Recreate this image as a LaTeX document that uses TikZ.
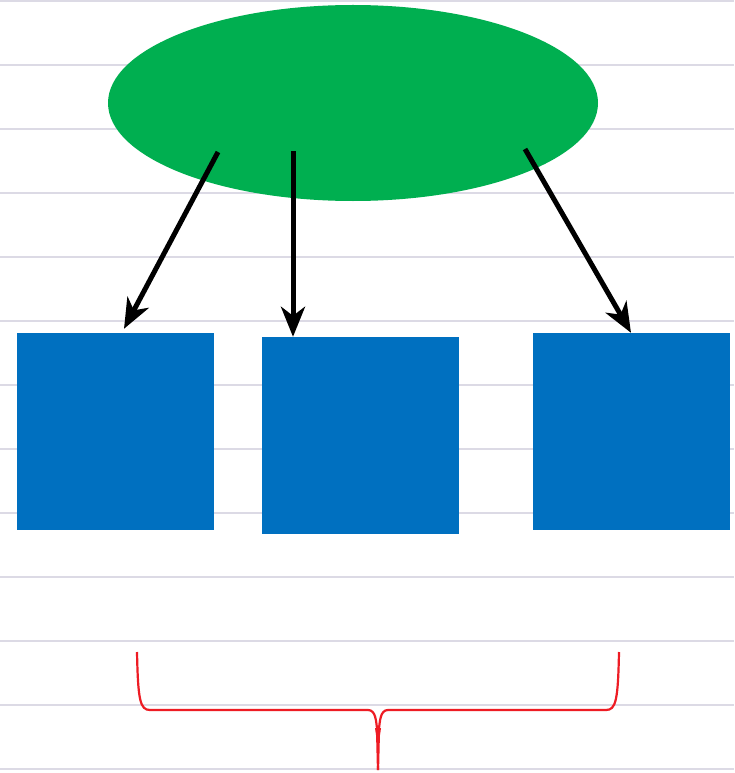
\documentclass[tikz,border=0pt]{standalone}
\usetikzlibrary{shapes.geometric,arrows.meta,calc}
\definecolor{rulecol}{HTML}{DCDAE5}
\definecolor{topgreen}{HTML}{00AF50}
\definecolor{boxblue}{HTML}{0070C0}
\definecolor{bracered}{HTML}{EE1C24}
\tikzset{
  ruleline/.style={rulecol,line width=2.5pt},
  topnode/.style={ellipse,fill=topgreen,draw=none,minimum width=490pt,minimum height=196pt,inner sep=0pt},
  boxnode/.style={rectangle,fill=boxblue,draw=none,minimum width=197pt,minimum height=197pt,inner sep=0pt},
  arrowline/.style={line width=5pt,-{Stealth[length=30pt,width=24pt,inset=9pt]}},
  bracepath/.style={bracered,line width=2.2pt}
}
\begin{document}
\begin{tikzpicture}[x=1pt,y=-1pt]
\useasboundingbox (0,0) rectangle (734,773);
\fill[white] (0,0) rectangle (734,773);
\draw[ruleline] (0,1) -- (734,1);
\foreach \yy in {65,129,193,257,321,385,449,513,577,641,705,769}
  \draw[ruleline] (0,\yy) -- (734,\yy);
\node[topnode] (top) at (353,103) {};
\node[boxnode] (b1) at (115.5,431.5) {};
\node[boxnode] (b2) at (360.5,435.5) {};
\node[boxnode] (b3) at (631.5,431.5) {};
\coordinate (s1) at (218,152);
\coordinate (s2) at (293,151);
\coordinate (s3) at (525,149);
\draw[arrowline] (s1) -- ([xshift=8.5pt,yshift=4pt]b1.north);
\draw[arrowline] (s2) -- ([xshift=-67.5pt,yshift=0pt]b2.north);
\draw[arrowline] (s3) -- ([xshift=-0.5pt,yshift=0pt]b3.north);
\coordinate (bl) at (137,652);
\coordinate (br) at (619,652);
\coordinate (bt) at (378,770);
\draw[bracepath] (bl) .. controls (138,700) and (140,710) .. (150,710)
  -- (368,710) .. controls (376,710) and (376,722) .. (377,728) -- (bt);
\draw[bracepath] (br) .. controls (618,700) and (616,710) .. (606,710)
  -- (388,710) .. controls (380,710) and (380,722) .. (379,728) -- (bt);
\fill[bracered] (375,728) -- (381,728) -- (379,742) -- (377,742) -- cycle;
\end{tikzpicture}
\end{document}
